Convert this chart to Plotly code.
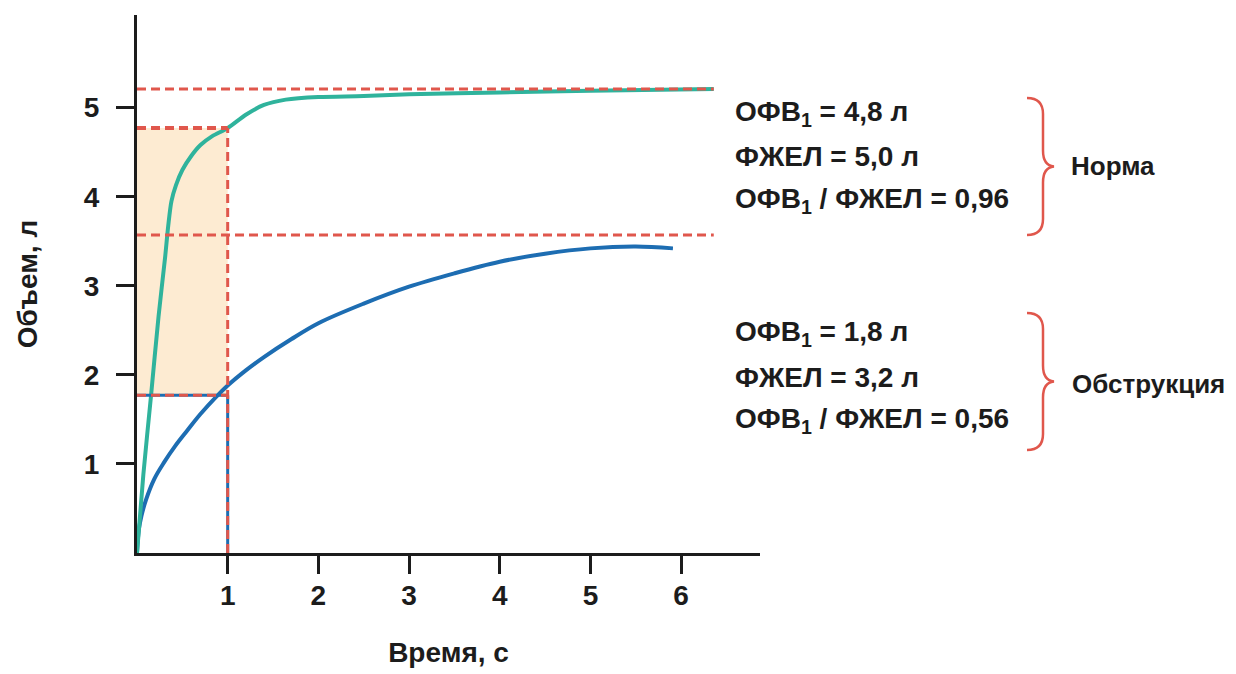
import plotly.graph_objects as go

# ---- data ----
norm_t = [0, 0.07, 0.155, 0.238, 0.31, 0.345, 0.38, 0.43, 0.5, 0.6, 0.7, 0.83, 1.0, 1.2, 1.4, 1.64, 2.0, 2.5, 3.0, 4.0, 5.0, 6.36]
norm_v = [0, 0.88, 1.77, 2.66, 3.32, 3.68, 3.95, 4.13, 4.30, 4.46, 4.58, 4.68, 4.77, 4.92, 5.03, 5.09, 5.12, 5.13, 5.15, 5.17, 5.19, 5.21]

obst_t = [0, 0.02, 0.05, 0.1, 0.19, 0.3, 0.42, 0.55, 0.7, 0.87, 1.0, 1.2, 1.4, 1.7, 2.0, 2.5, 3.0, 3.5, 4.0, 4.5, 5.0, 5.5, 5.91]
obst_v = [0, 0.26, 0.42, 0.60, 0.83, 1.02, 1.20, 1.37, 1.56, 1.75, 1.88, 2.05, 2.20, 2.40, 2.58, 2.80, 2.99, 3.14, 3.27, 3.36, 3.42, 3.44, 3.42]

x_ticks = [1, 2, 3, 4, 5, 6]
y_ticks = [1, 2, 3, 4, 5]

norm_fvc_line = 5.21
norm_fev1_line = 4.77
obst_fvc_line = 3.57
obst_fev1_line = 1.77
t_fev1 = 1
line_end_t = 6.36

norm_text = ["ОФВ<sub>1</sub> = 4,8 л", "ФЖЕЛ = 5,0 л", "ОФВ<sub>1</sub> / ФЖЕЛ = 0,96"]
obst_text = ["ОФВ<sub>1</sub> = 1,8 л", "ФЖЕЛ = 3,2 л", "ОФВ<sub>1</sub> / ФЖЕЛ = 0,56"]
group_labels = ["Норма", "Обструкция"]

# ---- styling ----
W, H = 1236, 674
L, R, T, B = 137, 760, 15, 553
GREEN = "#2fb39c"
BLUE = "#1d6db2"
RED = "#e0574c"
FILL = "#fdebd2"
INK = "#1c1c1c"
FONT = "Liberation Sans, Arial, sans-serif"
FS = 28
DASH = "9px,5px"


def px(x):
    return (x - L) / (R - L)


def py(y):
    return (B - y) / (B - T)


fig = go.Figure()
fig.add_trace(go.Scatter(x=obst_t, y=obst_v, mode="lines",
                         line=dict(color=BLUE, width=4, shape="spline", smoothing=1.0),
                         hoverinfo="skip", showlegend=False))
fig.add_trace(go.Scatter(x=norm_t, y=norm_v, mode="lines",
                         line=dict(color=GREEN, width=4, shape="spline", smoothing=0.8),
                         hoverinfo="skip", showlegend=False))

shapes = []
shapes.append(dict(type="rect", xref="x", yref="y", x0=0, x1=t_fev1,
                   y0=obst_fev1_line, y1=norm_fev1_line,
                   fillcolor=FILL, line=dict(width=0), layer="below"))
shapes.append(dict(type="line", xref="x", yref="y", x0=0, x1=t_fev1,
                   y0=obst_fev1_line, y1=obst_fev1_line,
                   line=dict(color=BLUE, width=3), layer="above"))
shapes.append(dict(type="line", xref="x", yref="y", x0=t_fev1, x1=t_fev1,
                   y0=0, y1=obst_fev1_line,
                   line=dict(color=BLUE, width=3), layer="above"))
for yv, x1, w in [(norm_fvc_line, line_end_t, 3), (obst_fvc_line, line_end_t, 3),
                  (norm_fev1_line, t_fev1, 4), (obst_fev1_line, t_fev1, 3)]:
    shapes.append(dict(type="line", xref="x", yref="y", x0=0, x1=x1, y0=yv, y1=yv,
                       line=dict(color=RED, width=w, dash=DASH), layer="above"))
shapes.append(dict(type="line", xref="x", yref="y", x0=t_fev1, x1=t_fev1,
                   y0=0, y1=norm_fev1_line,
                   line=dict(color=RED, width=3, dash=DASH), layer="above"))


def brace(top, bottom, tip_x, spine_x, end_x):
    mid = (top + bottom) / 2
    pts = [
        f"M {px(end_x)},{py(top)}",
        f"Q {px(spine_x)},{py(top)} {px(spine_x)},{py(top + 16)}",
        f"L {px(spine_x)},{py(mid - 16)}",
        f"Q {px(spine_x)},{py(mid - 1)} {px(tip_x)},{py(mid)}",
        f"Q {px(spine_x)},{py(mid + 1)} {px(spine_x)},{py(mid + 16)}",
        f"L {px(spine_x)},{py(bottom - 16)}",
        f"Q {px(spine_x)},{py(bottom)} {px(end_x)},{py(bottom)}",
    ]
    return dict(type="path", xref="paper", yref="paper", path=" ".join(pts),
                line=dict(color=RED, width=2.5), layer="above")


shapes.append(brace(98, 235, 1054, 1043, 1027))
shapes.append(brace(313, 450, 1054, 1043, 1027))

annotations = []
for txt, yy in zip(norm_text, [114, 156, 200]):
    annotations.append(dict(text=txt, xref="paper", yref="paper", x=px(733), y=py(yy),
                            xanchor="left", yanchor="middle", showarrow=False,
                            font=dict(family=FONT, size=FS, color=INK, weight="bold")))
for txt, yy in zip(obst_text, [333, 377, 420]):
    annotations.append(dict(text=txt, xref="paper", yref="paper", x=px(733), y=py(yy),
                            xanchor="left", yanchor="middle", showarrow=False,
                            font=dict(family=FONT, size=FS, color=INK, weight="bold")))
for txt, xx, yy in zip(group_labels, [1069, 1070], [166, 384]):
    annotations.append(dict(text=txt, xref="paper", yref="paper", x=px(xx), y=py(yy),
                            xanchor="left", yanchor="middle", showarrow=False,
                            font=dict(family=FONT, size=26, color=INK, weight="bold")))

axis_common = dict(showgrid=False, zeroline=False, showline=True, linecolor=INK, linewidth=3,
                   ticks="outside", ticklen=18, tickwidth=3, tickcolor=INK,
                   tickfont=dict(family=FONT, size=FS, color=INK, weight="bold"),
                   title_font=dict(family=FONT, size=FS, color=INK, weight="bold"))

fig.update_layout(
    width=W, height=H,
    margin=dict(l=L, r=W - R, t=T, b=H - B, autoexpand=False),
    paper_bgcolor="white", plot_bgcolor="white",
    shapes=shapes, annotations=annotations,
    xaxis=dict(range=[0, 6.87], tickvals=x_ticks, ticktext=[str(v) for v in x_ticks],
               title=dict(text="Время, с", standoff=33), ticklabelstandoff=-3, **axis_common),
    yaxis=dict(range=[0, 6.04], tickvals=y_ticks, ticktext=[str(v) for v in y_ticks],
               title=dict(text="Объем, л", standoff=39), ticklabelstandoff=11, **axis_common),
)

fig.write_html("out.html", config={"displayModeBar": False},
               post_script="document.body.style.margin='0';document.body.style.overflow='hidden';")
